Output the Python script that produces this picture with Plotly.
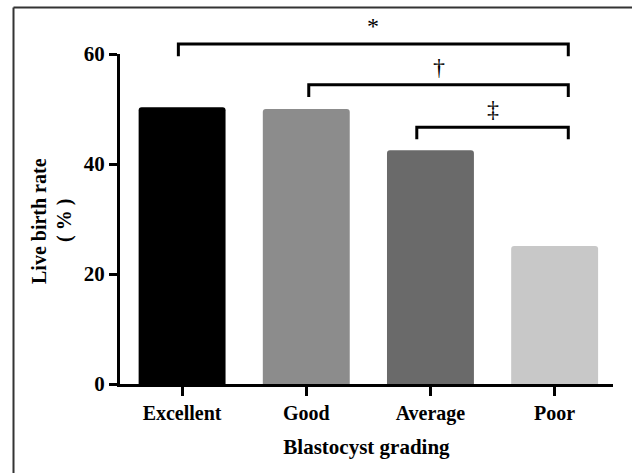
import plotly.graph_objects as go

categories = ["Excellent", "Good", "Average", "Poor"]
live_birth_rate = [50.3, 50.0, 42.5, 25.1]
bar_colors = ["#000000", "#8c8c8c", "#6a6a6a", "#c8c8c8"]
y_ticks = [0, 20, 40, 60]

# significance brackets: (left category position, right category position, symbol)
brackets = [
    (-0.03, 3.11, "*"),
    (1.02, 3.11, "†"),
    (1.89, 3.11, "‡"),
]
bracket_levels = [61.8, 54.4, 46.7]
bracket_drop = 2.2

FONT = "Liberation Serif"

fig = go.Figure()
fig.add_trace(go.Bar(
    x=list(range(len(categories))), y=live_birth_rate,
    marker=dict(color=bar_colors, line=dict(width=0), cornerradius=3),
    width=0.7, hoverinfo="skip",
))

H = 330.0  # plot height in px
W = 493.0  # plot width in px
for (x0, x1, sym), lvl in zip(brackets, bracket_levels):
    top = lvl / 60.0
    bot = (lvl - bracket_drop) / 60.0
    fig.add_shape(type="path", xref="x", yref="paper",
                  path=f"M {x0} {bot} L {x0} {top} L {x1} {top} L {x1} {bot}",
                  line=dict(color="black", width=3))
    fig.add_annotation(x=(x0 + x1) / 2, y=top, xref="x", yref="paper",
                       text=sym, showarrow=False, yanchor="bottom", yshift=3,
                       font=dict(family=FONT, size=24, color="black"))

fig.add_annotation(text="<b>Live birth rate</b>", textangle=-90,
                   xref="paper", yref="paper", x=(39 - 120) / W, y=(384 - 221) / H,
                   xanchor="center", yanchor="middle",
                   showarrow=False, font=dict(family=FONT, size=20, color="black"))
fig.add_annotation(text="<b>( % )</b>", textangle=-90,
                   xref="paper", yref="paper", x=(64 - 120) / W, y=(384 - 221) / H,
                   xanchor="center", yanchor="middle",
                   showarrow=False, font=dict(family=FONT, size=20, color="black"))

# outer frame
fig.add_shape(type="line", xref="paper", yref="paper",
              x0=(13.5 - 120) / W, x1=(640 - 120) / W,
              y0=(384 - 7.5) / H, y1=(384 - 7.5) / H,
              line=dict(color="#333333", width=2))
fig.add_shape(type="line", xref="paper", yref="paper",
              x0=(13.5 - 120) / W, x1=(13.5 - 120) / W,
              y0=(384 - 7.5) / H, y1=(384 - 480) / H,
              line=dict(color="#333333", width=2))

fig.update_layout(
    width=632, height=473,
    margin=dict(l=120, r=19, t=54, b=89),
    paper_bgcolor="white", plot_bgcolor="white",
    showlegend=False, bargap=0.3,
    font=dict(family=FONT, color="black"),
)
fig.update_xaxes(
    range=[-0.5, 3.47], tickmode="array", tickvals=list(range(len(categories))),
    ticktext=[f"<b>{c}</b>" for c in categories],
    showline=True, linecolor="black", linewidth=3,
    ticks="outside", ticklen=9, tickwidth=3, tickcolor="black",
    tickfont=dict(family=FONT, size=20, color="black"),
    showgrid=False, zeroline=False,
    title=dict(text="<b>Blastocyst grading</b>", standoff=16,
               font=dict(family=FONT, size=21, color="black")),
)
fig.update_yaxes(
    range=[0, 60], tickvals=y_ticks, ticktext=[f"<b>{v}</b>" for v in y_ticks],
    showline=True, linecolor="black", linewidth=3,
    ticks="outside", ticklen=8, tickwidth=3, tickcolor="black",
    tickfont=dict(family=FONT, size=21, color="black"),
    showgrid=False, zeroline=False,
)

fig.write_html("out.html", config={"displayModeBar": False},
               post_script="document.body.style.margin='0';")
